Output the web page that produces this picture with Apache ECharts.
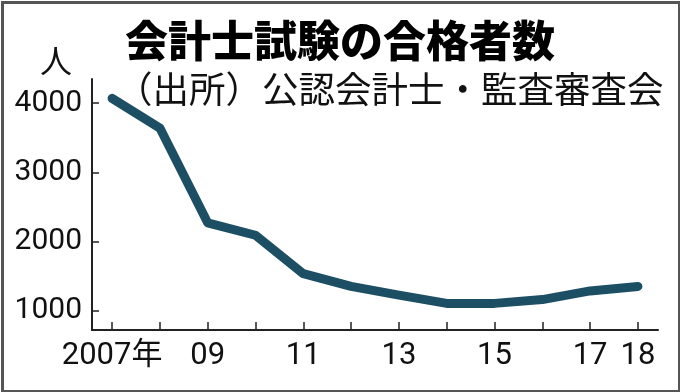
<!DOCTYPE html>
<html>
<head>
<meta charset="utf-8">
<script src="https://cdn.jsdelivr.net/npm/echarts@6/dist/echarts.min.js"></script>
<style>
html,body{margin:0;padding:0;background:#fff;}
#main{width:680px;height:392px;}
</style>
</head>
<body>
<div id="main"></div>
<script>
// Data
const years = [2007, 2008, 2009, 2010, 2011, 2012, 2013, 2014, 2015, 2016, 2017, 2018];
const passers = [4070, 3640, 2270, 2090, 1535, 1350, 1225, 1105, 1105, 1160, 1285, 1350];
const yTickValues = [1000, 2000, 3000, 4000];
const xLabelYears = [2007, 2009, 2011, 2013, 2015, 2017, 2018];
const titleText = '会計士試験の合格者数';
const subtitleText = '（出所）公認会計士・監査審査会';
const unitText = '人';

const numFont = "Roboto, 'Noto Sans CJK JP', sans-serif";
const cjkFont = "'Noto Sans CJK JP', sans-serif";

const chart = echarts.init(document.getElementById('main'), null, {renderer: 'canvas'});
chart.setOption({
  animation: false,
  backgroundColor: '#fff',
  title: [
    {
      text: titleText,
      left: 'center',
      top: 14,
      textStyle: {fontFamily: cjkFont, fontSize: 43, fontWeight: 900, color: '#000'}
    },
    {
      text: subtitleText,
      left: 111,
      top: 66,
      textStyle: {fontFamily: cjkFont, fontSize: 36.5, fontWeight: 'normal', color: '#111'}
    }
  ],
  graphic: [
    {
      type: 'rect',
      left: 0, top: 0,
      shape: {x: 1.5, y: 1.5, width: 677, height: 389},
      style: {fill: null, stroke: '#555', lineWidth: 3},
      silent: true
    }
  ],
  grid: {left: 92, right: 22, top: 79, bottom: 62, containLabel: false, outerBoundsMode: 'none'},
  xAxis: {
    type: 'value',
    min: 2006.58,
    max: 2018.42,
    splitLine: {show: false},
    axisLine: {show: true, lineStyle: {color: '#222', width: 2}},
    axisTick: {show: true, inside: true, length: 8, customValues: years, lineStyle: {color: '#222', width: 1.5}},
    axisLabel: {
      customValues: xLabelYears,
      margin: 11,
      fontFamily: numFont,
      fontSize: 31,
      color: '#111',
      formatter: function (v) {
        return v === years[0] ? v + '年' : String(v % 100).padStart(2, '0');
      }
    }
  },
  yAxis: {
    type: 'value',
    min: 720,
    max: 4350,
    name: unitText,
    nameLocation: 'end',
    nameGap: 2,
    nameTextStyle: {fontFamily: cjkFont, fontSize: 32, color: '#111', align: 'right', verticalAlign: 'bottom', padding: [0, 20, 0, 0]},
    splitLine: {show: false},
    axisLine: {show: true, lineStyle: {color: '#222', width: 2}},
    axisTick: {show: true, inside: true, length: 7, customValues: yTickValues, lineStyle: {color: '#222', width: 1.5}},
    axisLabel: {
      customValues: yTickValues,
      margin: 10,
      fontFamily: numFont,
      fontSize: 30,
      color: '#111',
      formatter: function (v) { return String(v); }
    }
  },
  series: [{
    type: 'line',
    data: years.map((y, i) => [y, passers[i]]),
    showSymbol: false,
    clip: false,
    lineStyle: {color: '#1c4f63', width: 9, cap: 'round', join: 'round'}
  }]
});
</script>
</body>
</html>
